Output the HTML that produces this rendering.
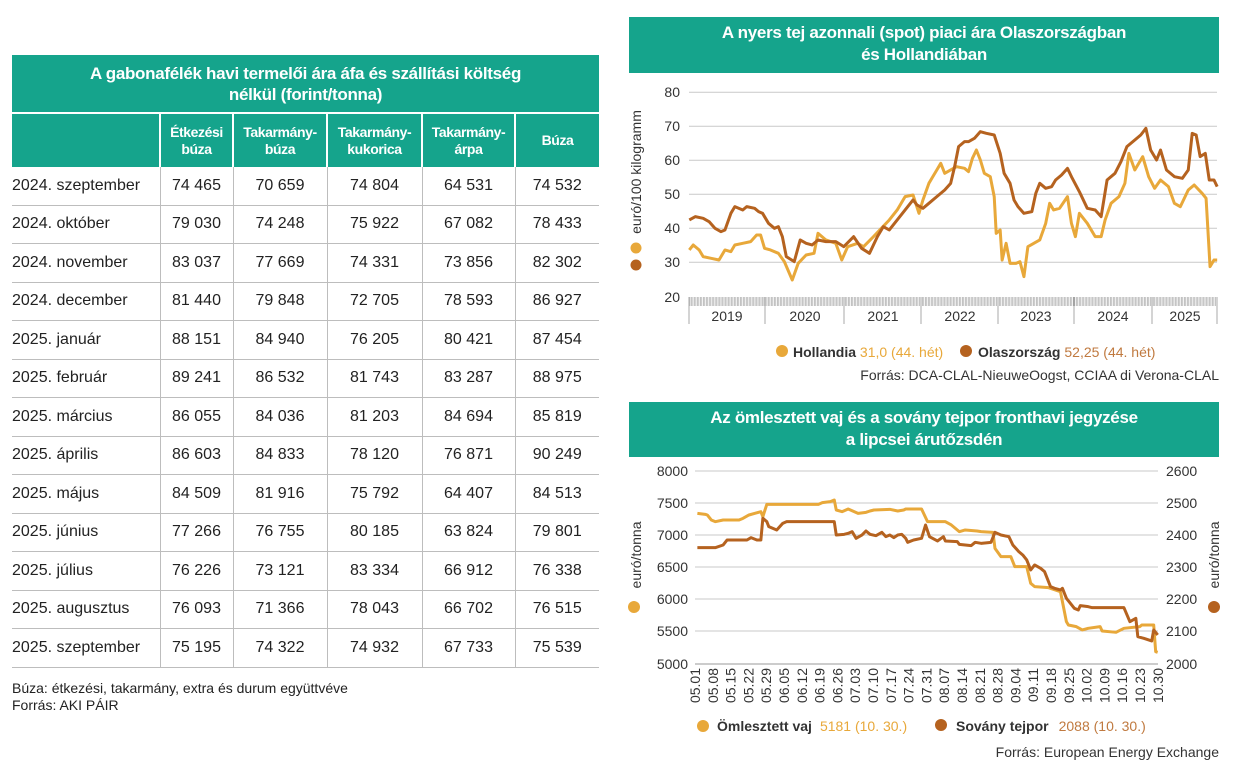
<!DOCTYPE html>
<html><head><meta charset="utf-8"><style>
body{margin:0;width:1256px;height:772px;background:#fff;position:relative;overflow:hidden;font-family:"Liberation Sans",sans-serif;color:#222}
.abs{position:absolute}
table{position:absolute;left:12px;top:55px;border-collapse:collapse;table-layout:fixed;width:587px}
td{font-size:16px;text-align:center;border-bottom:1px solid #bdbdbd;border-left:1px solid #bdbdbd;height:37.5px;padding:0;white-space:nowrap}
td:first-child{text-align:left;border-left:none}
.tt td{background:#15a48c;color:#fff;font-weight:bold;font-size:17px;height:57px;line-height:21px;border-bottom:2px solid #fff;letter-spacing:-0.3px}
.hd td{background:#15a48c;color:#fff;font-weight:bold;font-size:14px;height:53px;line-height:17px;border-left:2px solid #fff;border-bottom:none;letter-spacing:-0.4px}
.hd td:first-child{border-left:none}
.title{background:#15a48c;color:#fff;font-weight:bold;font-size:17px;text-align:center;line-height:22px;box-sizing:border-box;padding-top:5px;letter-spacing:-0.3px}
</style></head><body>
<table>
<colgroup><col style="width:148px"><col style="width:73px"><col style="width:94px"><col style="width:95px"><col style="width:93px"><col style="width:84px"></colgroup>
<tr class="tt"><td colspan="6" style="text-align:center">A gabonafélék havi termelői ára áfa és szállítási költség<br>nélkül (forint/tonna)</td></tr>
<tr class="hd"><td></td><td>Étkezési<br>búza</td><td>Takarmány-<br>búza</td><td>Takarmány-<br>kukorica</td><td>Takarmány-<br>árpa</td><td>Búza</td></tr>
<tr><td>2024. szeptember</td><td>74 465</td><td>70 659</td><td>74 804</td><td>64 531</td><td>74 532</td></tr>
<tr><td>2024. október</td><td>79 030</td><td>74 248</td><td>75 922</td><td>67 082</td><td>78 433</td></tr>
<tr><td>2024. november</td><td>83 037</td><td>77 669</td><td>74 331</td><td>73 856</td><td>82 302</td></tr>
<tr><td>2024. december</td><td>81 440</td><td>79 848</td><td>72 705</td><td>78 593</td><td>86 927</td></tr>
<tr><td>2025. január</td><td>88 151</td><td>84 940</td><td>76 205</td><td>80 421</td><td>87 454</td></tr>
<tr><td>2025. február</td><td>89 241</td><td>86 532</td><td>81 743</td><td>83 287</td><td>88 975</td></tr>
<tr><td>2025. március</td><td>86 055</td><td>84 036</td><td>81 203</td><td>84 694</td><td>85 819</td></tr>
<tr><td>2025. április</td><td>86 603</td><td>84 833</td><td>78 120</td><td>76 871</td><td>90 249</td></tr>
<tr><td>2025. május</td><td>84 509</td><td>81 916</td><td>75 792</td><td>64 407</td><td>84 513</td></tr>
<tr><td>2025. június</td><td>77 266</td><td>76 755</td><td>80 185</td><td>63 824</td><td>79 801</td></tr>
<tr><td>2025. július</td><td>76 226</td><td>73 121</td><td>83 334</td><td>66 912</td><td>76 338</td></tr>
<tr><td>2025. augusztus</td><td>76 093</td><td>71 366</td><td>78 043</td><td>66 702</td><td>76 515</td></tr>
<tr><td>2025. szeptember</td><td>75 195</td><td>74 322</td><td>74 932</td><td>67 733</td><td>75 539</td></tr>
</table>
<div class="abs" style="left:12px;top:680px;font-size:14px;line-height:17px">Búza: étkezési, takarmány, extra és durum együttvéve<br>Forrás: AKI PÁIR</div>

<div class="abs title" style="left:629px;top:17px;width:590px;height:56px">A nyers tej azonnali (spot) piaci ára Olaszországban<br>és Hollandiában</div>
<div class="abs title" style="left:629px;top:402px;width:590px;height:55px">Az ömlesztett vaj és a sovány tejpor fronthavi jegyzése<br>a lipcsei árutőzsdén</div>

<svg class="abs" style="left:0;top:0" width="1256" height="772" font-family="Liberation Sans, sans-serif">
<defs><pattern id="tk" width="1.48" height="10" patternUnits="userSpaceOnUse"><rect width="0.6" height="10" fill="#999"/></pattern></defs>
<g stroke="#c9c9c9" stroke-width="1">
<line x1="689" x2="1217" y1="92.3" y2="92.3"/><line x1="689" x2="1217" y1="126.3" y2="126.3"/><line x1="689" x2="1217" y1="160.3" y2="160.3"/><line x1="689" x2="1217" y1="194.3" y2="194.3"/><line x1="689" x2="1217" y1="228.3" y2="228.3"/><line x1="689" x2="1217" y1="262.3" y2="262.3"/>
</g>
<rect x="689" y="297" width="528" height="9" fill="url(#tk)"/>
<g stroke="#aaa"><line x1="689" x2="689" y1="297" y2="324"/><line x1="765" x2="765" y1="297" y2="324"/><line x1="844" x2="844" y1="297" y2="324"/><line x1="921" x2="921" y1="297" y2="324"/><line x1="998" x2="998" y1="297" y2="324"/><line x1="1074" x2="1074" y1="297" y2="324"/><line x1="1152" x2="1152" y1="297" y2="324"/><line x1="1217" x2="1217" y1="297" y2="324"/></g>
<g font-size="14" fill="#333" text-anchor="end"><text x="680" y="97">80</text><text x="680" y="131">70</text><text x="680" y="165">60</text><text x="680" y="199">50</text><text x="680" y="233">40</text><text x="680" y="267">30</text><text x="680" y="302">20</text></g>
<g font-size="14" fill="#333" text-anchor="middle"><text x="727" y="321">2019</text><text x="805" y="321">2020</text><text x="883" y="321">2021</text><text x="960" y="321">2022</text><text x="1036" y="321">2023</text><text x="1113" y="321">2024</text><text x="1185" y="321">2025</text></g>
<text transform="translate(641,172) rotate(-90)" font-size="14" fill="#333" text-anchor="middle">euró/100 kilogramm</text>
<circle cx="636" cy="248" r="5.5" fill="#e8a83a"/><circle cx="636" cy="265" r="5.5" fill="#b5621f"/>
<g transform="translate(620,80) scale(0.396,0.3333)" fill="none" stroke-width="3" stroke-linejoin="round">
<polyline stroke="#e8a83a" vector-effect="non-scaling-stroke" points="175,510 185,495 200,510 210,530 230,535 250,540 265,510 280,515 290,495 310,490 330,485 345,465 355,465 365,505 380,510 400,520 415,545 435,600 450,550 470,525 490,520 500,460 520,480 545,490 560,540 575,500 600,490 615,500 640,470 660,445 680,420 700,390 720,350 740,345 755,400 765,360 780,310 790,290 800,270 810,250 820,280 835,270 850,260 870,265 880,275 890,235 900,210 910,240 920,280 935,290 945,350 950,460 960,450 965,540 975,490 985,550 1000,550 1010,545 1020,590 1030,500 1045,490 1060,480 1075,430 1085,370 1095,390 1110,385 1130,350 1140,430 1150,470 1160,400 1180,430 1200,470 1215,470 1225,420 1240,370 1260,350 1275,310 1285,220 1300,270 1320,230 1335,290 1350,325 1365,300 1385,320 1400,370 1415,380 1435,330 1450,315 1470,340 1480,355 1490,560 1500,540 1508,540"/>
<polyline stroke="#b5621f" vector-effect="non-scaling-stroke" points="175,420 190,410 210,415 225,425 240,445 255,455 265,450 280,400 290,380 310,390 320,380 340,385 350,395 360,400 375,430 390,445 400,440 410,470 420,530 440,545 455,480 470,490 485,495 500,480 520,485 545,485 565,500 590,470 610,505 630,520 650,470 665,440 680,450 700,420 720,390 740,360 750,375 765,385 780,370 800,350 820,330 835,310 845,260 855,200 870,185 880,185 895,175 910,155 925,160 945,165 960,220 970,280 985,310 995,360 1005,380 1020,400 1040,395 1050,340 1060,310 1075,325 1090,320 1100,300 1115,285 1130,265 1140,290 1160,335 1180,385 1200,390 1215,410 1230,300 1250,280 1265,245 1280,200 1300,180 1315,165 1328,145 1340,210 1355,240 1365,210 1380,270 1400,290 1420,295 1435,270 1445,160 1455,165 1465,230 1478,220 1488,300 1500,300 1508,320"/>
</g>
<circle cx="782" cy="351" r="6" fill="#e8a83a"/>
<text x="793" y="357" font-size="14"><tspan font-weight="bold" fill="#333">Hollandia</tspan><tspan fill="#e8a83a"> 31,0 (44. hét)</tspan></text>
<circle cx="966" cy="351" r="6" fill="#b5621f"/>
<text x="978" y="357" font-size="14"><tspan font-weight="bold" fill="#333">Olaszország</tspan><tspan fill="#c07a40"> 52,25 (44. hét)</tspan></text>
<text x="1219" y="380" font-size="14" fill="#333" text-anchor="end">Forrás: DCA-CLAL-NieuweOogst, CCIAA di Verona-CLAL</text>

<g stroke="#c9c9c9"><line x1="695" x2="1158" y1="471" y2="471"/><line x1="695" x2="1158" y1="503" y2="503"/><line x1="695" x2="1158" y1="535" y2="535"/><line x1="695" x2="1158" y1="567" y2="567"/><line x1="695" x2="1158" y1="599" y2="599"/><line x1="695" x2="1158" y1="631" y2="631"/><line x1="695" x2="1158" y1="664" y2="664" stroke="#999"/></g>
<g font-size="14" fill="#333" text-anchor="end"><text x="688" y="476">8000</text><text x="688" y="508">7500</text><text x="688" y="540">7000</text><text x="688" y="572">6500</text><text x="688" y="604">6000</text><text x="688" y="636">5500</text><text x="688" y="669">5000</text></g>
<g font-size="14" fill="#333"><text x="1166" y="476">2600</text><text x="1166" y="508">2500</text><text x="1166" y="540">2400</text><text x="1166" y="572">2300</text><text x="1166" y="604">2200</text><text x="1166" y="636">2100</text><text x="1166" y="669">2000</text></g>
<text transform="translate(641,555) rotate(-90)" font-size="14" fill="#333" text-anchor="middle">euró/tonna</text>
<circle cx="634" cy="607" r="6" fill="#e8a83a"/>
<text transform="translate(1219,555) rotate(-90)" font-size="14" fill="#333" text-anchor="middle">euró/tonna</text>
<circle cx="1214" cy="607" r="6" fill="#b5621f"/>
<g transform="translate(620,455) scale(0.3968,0.3333)" fill="none" stroke-width="3" stroke-linejoin="round">
<polyline stroke="#e8a83a" vector-effect="non-scaling-stroke" points="195,175 215,178 220,180 230,195 240,200 260,195 300,195 310,190 325,180 340,175 355,170 360,185 370,148 400,148 500,148 510,143 530,140 540,135 545,165 560,170 575,162 600,175 620,172 630,168 640,165 680,163 700,168 715,165 720,162 760,162 775,200 820,200 835,210 855,230 870,225 900,228 910,230 940,232 945,280 960,305 985,305 995,335 1025,335 1035,385 1045,395 1080,398 1110,410 1125,500 1130,510 1150,515 1165,525 1180,520 1210,515 1215,528 1250,532 1270,520 1310,515 1315,510 1345,510 1350,590 1355,592"/>
<polyline stroke="#b5621f" vector-effect="non-scaling-stroke" points="195,278 240,278 260,270 270,255 300,255 320,255 330,248 345,255 355,255 360,190 370,200 375,215 395,225 410,205 420,200 540,200 545,240 565,238 575,235 585,230 595,250 610,240 620,228 630,238 645,242 660,232 670,245 680,240 690,248 700,240 710,238 720,250 725,262 740,255 760,250 770,210 780,245 800,258 815,245 820,258 850,260 855,268 885,272 895,262 910,265 935,262 945,232 960,240 980,245 990,270 1005,290 1015,300 1025,315 1035,345 1045,330 1060,340 1070,350 1085,395 1095,400 1110,405 1115,400 1125,430 1145,460 1155,465 1160,452 1180,455 1190,458 1270,458 1285,500 1300,490 1305,545 1320,550 1340,558 1345,525 1355,540"/>
</g>
<g font-size="14" fill="#333" text-anchor="end">
<text transform="translate(700,668) rotate(-90)">05.01</text><text transform="translate(717.8,668) rotate(-90)">05.08</text><text transform="translate(735.6,668) rotate(-90)">05.15</text><text transform="translate(753.4,668) rotate(-90)">05.22</text><text transform="translate(771.2,668) rotate(-90)">05.29</text><text transform="translate(789,668) rotate(-90)">06.05</text><text transform="translate(806.8,668) rotate(-90)">06.12</text><text transform="translate(824.6,668) rotate(-90)">06.19</text><text transform="translate(842.4,668) rotate(-90)">06.26</text><text transform="translate(860.2,668) rotate(-90)">07.03</text><text transform="translate(878,668) rotate(-90)">07.10</text><text transform="translate(895.8,668) rotate(-90)">07.17</text><text transform="translate(913.6,668) rotate(-90)">07.24</text><text transform="translate(931.4,668) rotate(-90)">07.31</text><text transform="translate(949.2,668) rotate(-90)">08.07</text><text transform="translate(967,668) rotate(-90)">08.14</text><text transform="translate(984.8,668) rotate(-90)">08.21</text><text transform="translate(1002.6,668) rotate(-90)">08.28</text><text transform="translate(1020.4,668) rotate(-90)">09.04</text><text transform="translate(1038.2,668) rotate(-90)">09.11</text><text transform="translate(1056,668) rotate(-90)">09.18</text><text transform="translate(1073.8,668) rotate(-90)">09.25</text><text transform="translate(1091.6,668) rotate(-90)">10.02</text><text transform="translate(1109.4,668) rotate(-90)">10.09</text><text transform="translate(1127.2,668) rotate(-90)">10.16</text><text transform="translate(1145,668) rotate(-90)">10.23</text><text transform="translate(1162.8,668) rotate(-90)">10.30</text>
</g>
<circle cx="703" cy="726" r="6" fill="#e8a83a"/>
<text x="717" y="731" font-size="14"><tspan font-weight="bold" fill="#333">Ömlesztett vaj</tspan><tspan fill="#e8a83a" dx="8">5181 (10. 30.)</tspan></text>
<circle cx="941" cy="725" r="6" fill="#b5621f"/>
<text x="956" y="731" font-size="14"><tspan font-weight="bold" fill="#333">Sovány tejpor</tspan><tspan fill="#c07a40" dx="10">2088 (10. 30.)</tspan></text>
<text x="1219" y="757" font-size="14" fill="#333" text-anchor="end">Forrás: European Energy Exchange</text>
</svg>
</body></html>
